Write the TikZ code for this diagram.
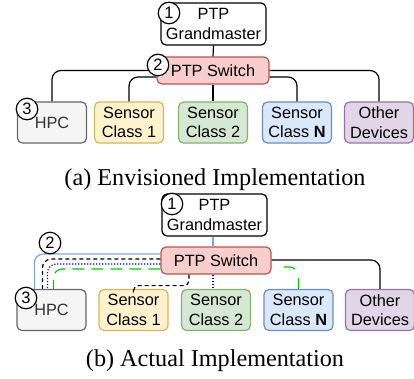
\documentclass[tikz,border=0pt]{standalone}
\usepackage{fontspec}
\setmainfont{Liberation Serif}
\setsansfont{Liberation Sans}
\definecolor{hpcfill}{HTML}{F5F5F5}
\definecolor{hpcdraw}{HTML}{666666}
\definecolor{hpctext}{HTML}{333333}
\definecolor{yfill}{HTML}{FFF2CC}
\definecolor{ydraw}{HTML}{D6B656}
\definecolor{gfill}{HTML}{D5E8D4}
\definecolor{gdraw}{HTML}{82B366}
\definecolor{bfill}{HTML}{DAE8FC}
\definecolor{bdraw}{HTML}{6C8EBF}
\definecolor{pfill}{HTML}{E1D5E7}
\definecolor{pdraw}{HTML}{9673A6}
\definecolor{rfill}{HTML}{F8CECC}
\definecolor{rdraw}{HTML}{B85450}
\definecolor{lblue}{HTML}{7EA6E0}
\definecolor{dblue}{HTML}{0000FF}
\definecolor{lgreen}{HTML}{00CC00}
\tikzset{
  box/.style={draw, rounded corners=5pt, line width=1.2pt, align=center,
    font=\sffamily\fontsize{16.3}{19.5}\selectfont, inner sep=0pt},
  gmbox/.style={box, fill=white, minimum width=105pt, minimum height=42pt},
  swbox/.style={box, draw=rdraw, fill=rfill, minimum height=27pt},
  dev/.style={box, minimum width=69pt, minimum height=41pt},
  num/.style={circle, draw, fill=white, line width=1.2pt, minimum size=21.5pt, inner sep=0pt,
    font=\sffamily\fontsize{16.5}{16.5}\selectfont},
  conn/.style={line width=1.2pt, rounded corners=9pt},
  captext/.style={font=\fontsize{24.2}{28}\selectfont, anchor=base},
}
\begin{document}
\begin{tikzpicture}[x=1pt,y=-1pt]
\useasboundingbox (0,0) rectangle (414,378);
% ---------- (a) ----------
\node[gmbox] (gmA) at (213.5,24) {PTP\\Grandmaster};
\node[swbox, minimum width=112pt] (swA) at (213,70.5) {PTP Switch};
\node[dev, draw=hpcdraw, fill=hpcfill, text=hpctext] (hpcA) at (52,122.5) {HPC};
\node[dev, draw=ydraw, fill=yfill] (c1A) at (129,122.5) {Sensor\\Class 1};
\node[dev, draw=gdraw, fill=gfill] (c2A) at (213,122.5) {Sensor\\Class 2};
\node[dev, draw=bdraw, fill=bfill] (cnA) at (297,122.5) {Sensor\\Class \textbf{N}};
\node[dev, draw=pdraw, fill=pfill] (otA) at (379,122.5) {Other\\Devices};
\draw[conn] (gmA.south) -- (swA.north);
\draw[conn] (swA.west) -| (hpcA.north);
\draw[conn] ([yshift=-6.5pt]swA.west) -| (c1A.north);
\draw[conn] (swA.south) -- (c2A.north);
\draw[conn] ([yshift=-6.5pt]swA.east) -| (cnA.north);
\draw[conn] (swA.east) -| (otA.north);
\node[num] (n1A) at (169,13) {1};
\node[num] (n2A) at (158,65) {2};
\node[num] (n3A) at (27,109) {3};
\node[captext] (capA) at (215,185) {(a) Envisioned Implementation};
% ---------- (b) ----------
\node[gmbox] (gmB) at (214.5,215) {PTP\\Grandmaster};
\node[swbox, minimum width=110pt] (swB) at (216,260.5) {PTP Switch};
\node[dev, draw=hpcdraw, fill=hpcfill, text=hpctext] (hpcB) at (51.5,310) {HPC};
\node[dev, draw=ydraw, fill=yfill] (c1B) at (133.5,310) {Sensor\\Class 1};
\node[dev, draw=gdraw, fill=gfill] (c2B) at (216,310) {Sensor\\Class 2};
\node[dev, draw=bdraw, fill=bfill] (cnB) at (298.5,310) {Sensor\\Class \textbf{N}};
\node[dev, draw=pdraw, fill=pfill] (otB) at (380,310) {Other\\Devices};
\coordinate (h1) at ([xshift=18pt]hpcB.north west);
\coordinate (h2) at ([xshift=26pt]hpcB.north west);
\coordinate (h3) at ([xshift=31pt]hpcB.north west);
\coordinate (h4) at ([xshift=37pt]hpcB.north west);
\draw[conn, lblue] ([xshift=-1.5pt]gmB.south) -- ([xshift=-1.5pt]gmB.south |- swB.north);
\draw[conn, lblue] ([yshift=6.5pt]swB.west) -| (h1);
\draw[conn, dash pattern=on 4pt off 3pt] ([yshift=1.5pt]swB.west) -| (h2);
\draw[conn, dblue, dash pattern=on 1.2pt off 1.8pt] ([yshift=-3.5pt]swB.west) -| (h3);
\draw[conn, lgreen, dash pattern=on 12pt off 7pt] ([yshift=-8.5pt]swB.west) -| (h4);
\draw[conn, rounded corners=5pt, dash pattern=on 4pt off 3pt] ([xshift=-27pt]swB.south) -- ++(0,11) -| (c1B.north);
\draw[conn, dblue, dash pattern=on 1.2pt off 1.8pt] ([xshift=-3pt]swB.south) -- ([xshift=-3pt]swB.south |- c2B.north);
\draw[conn, lgreen, dash pattern=on 0pt off 12pt on 12pt off 10pt on 14pt off 20pt] ([yshift=-6.5pt]swB.east) -| (cnB.north);
\draw[conn] ([yshift=0.5pt]swB.east) -| (otB.north);
\node[num] (n1B) at (172,204) {1};
\node[num] (n2B) at (50,243) {2};
\node[num] (n3B) at (26,298) {3};
\node[captext] (capB) at (215,366) {(b) Actual Implementation};
\end{tikzpicture}
\end{document}
